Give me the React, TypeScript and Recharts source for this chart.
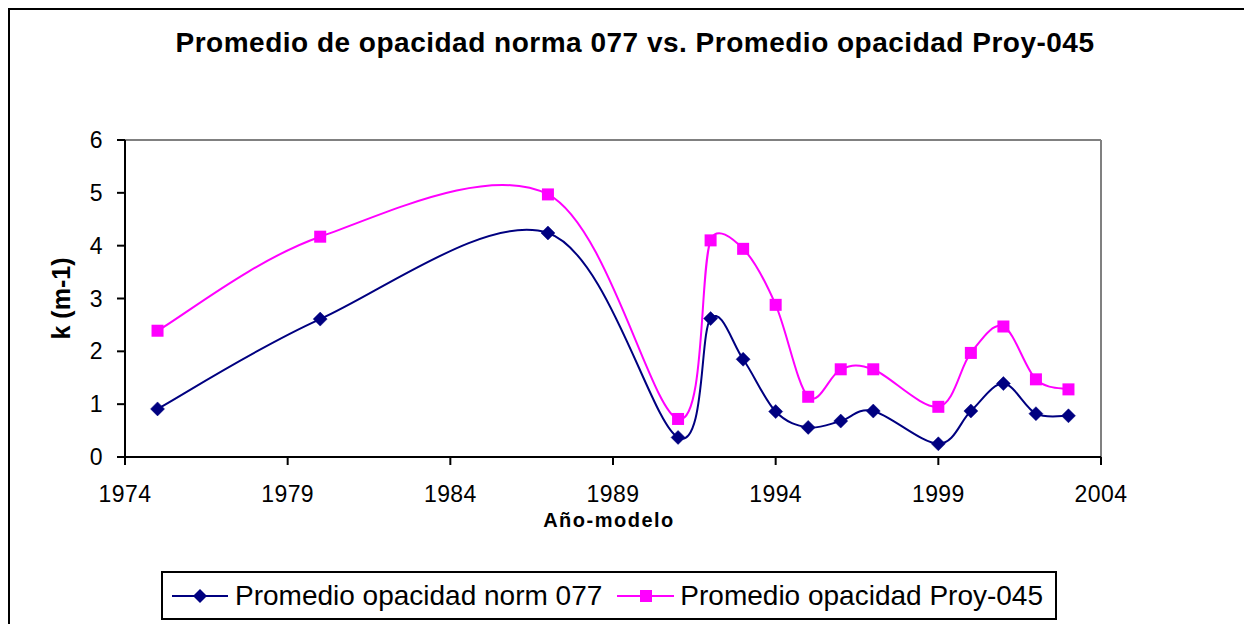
import React from 'react';
import { LineChart, Line, XAxis, YAxis, ReferenceLine, Legend } from 'recharts';

const FONT = '"Liberation Sans", Arial, Helvetica, sans-serif';

const TITLE = 'Promedio de opacidad norma 077 vs. Promedio opacidad Proy-045';
const X_LABEL = 'Año-modelo';
const Y_LABEL = 'k (m-1)';

const years = [1975, 1980, 1987, 1991, 1992, 1993, 1994, 1995, 1996, 1997, 1999, 2000, 2001, 2002, 2003];
const norm077 = [0.91, 2.61, 4.24, 0.37, 2.62, 1.85, 0.86, 0.56, 0.68, 0.87, 0.25, 0.87, 1.39, 0.82, 0.78];
const proy045 = [2.39, 4.17, 4.97, 0.72, 4.10, 3.94, 2.88, 1.14, 1.66, 1.66, 0.95, 1.97, 2.47, 1.47, 1.28];

const xTicks = [1974, 1979, 1984, 1989, 1994, 1999, 2004];
const yTicks = [0, 1, 2, 3, 4, 5, 6];

const SERIES_NAMES = ['Promedio opacidad norm 077', 'Promedio opacidad Proy-045'];
const NAVY = '#000080';
const MAGENTA = '#FF00FF';

// Excel-like smoothed line: Bezier segments, control offsets = min(chord/6, segment/2)
function excelCurve(context: any) {
  let pts: number[][] = [];
  const dist = (a: number[], b: number[]) => Math.hypot(b[0] - a[0], b[1] - a[1]);
  return {
    areaStart() {},
    areaEnd() {},
    lineStart() { pts = []; },
    point(x: number, y: number) { pts.push([+x, +y]); },
    lineEnd() {
      const n = pts.length;
      if (!n) return;
      context.moveTo(pts[0][0], pts[0][1]);
      if (n === 1) return;
      for (let i = 0; i < n - 1; i++) {
        const p0 = pts[Math.max(i - 1, 0)];
        const p1 = pts[i];
        const p2 = pts[i + 1];
        const p3 = pts[Math.min(i + 2, n - 1)];
        const d12 = dist(p1, p2);
        const d02 = dist(p0, p2);
        const d13 = dist(p1, p3);
        const f1 = d02 > 0 ? Math.min(d02 / 6, d12 / 2) / d02 : 0;
        const f2 = d13 > 0 ? Math.min(d13 / 6, d12 / 2) / d13 : 0;
        context.bezierCurveTo(
          p1[0] + (p2[0] - p0[0]) * f1, p1[1] + (p2[1] - p0[1]) * f1,
          p2[0] - (p3[0] - p1[0]) * f2, p2[1] - (p3[1] - p1[1]) * f2,
          p2[0], p2[1]
        );
      }
    },
  };
}

const Diamond = (props: any) => {
  const { cx, cy, index } = props;
  if (cx == null || cy == null) return <g key={`d-${index}`} />;
  const r = 7;
  return <path key={`d-${index}`} d={`M${cx},${cy - r}L${cx + r},${cy}L${cx},${cy + r}L${cx - r},${cy}Z`} fill={NAVY} stroke={NAVY} strokeWidth={0.5} />;
};

const Square = (props: any) => {
  const { cx, cy, index } = props;
  if (cx == null || cy == null) return <g key={`s-${index}`} />;
  const h = 6;
  return <rect key={`s-${index}`} x={cx - h} y={cy - h} width={2 * h} height={2 * h} fill={MAGENTA} />;
};

const LegendBox = () => (
  <div
    style={{
      boxSizing: 'border-box',
      width: 896,
      height: 49,
      border: '2px solid #000',
      background: '#fff',
      display: 'flex',
      alignItems: 'center',
      paddingLeft: 9,
      fontFamily: FONT,
      fontSize: 28,
      lineHeight: '28px',
      color: '#000',
      whiteSpace: 'nowrap',
    }}
  >
    <svg width={56} height={20} style={{ marginRight: 7 }}>
      <line x1={0} y1={10} x2={56} y2={10} stroke={NAVY} strokeWidth={2} />
      <path d="M28,3L35,10L28,17L21,10Z" fill={NAVY} />
    </svg>
    <span>{SERIES_NAMES[0]}</span>
    <svg width={57} height={20} style={{ marginLeft: 15, marginRight: 6 }}>
      <line x1={0} y1={10} x2={57} y2={10} stroke={MAGENTA} strokeWidth={2} />
      <rect x={23} y={4} width={12} height={12} fill={MAGENTA} />
    </svg>
    <span>{SERIES_NAMES[1]}</span>
  </div>
);

export default function App() {
  const data = years.map((y, i) => ({ year: y, norm077: norm077[i], proy045: proy045[i] }));

  const yLabel = (p: any) => {
    const vb = p && p.viewBox ? p.viewBox : { x: 0, y: 130, width: 115, height: 317 };
    const cx = vb.x + 60;
    const cy = vb.y + vb.height / 2;
    return (
      <text x={cx} y={cy} transform={`rotate(-90 ${cx} ${cy})`} textAnchor="middle" fontSize={25} fontWeight="bold" fontFamily={FONT} fill="#000">
        {Y_LABEL}
      </text>
    );
  };

  const xLabel = (p: any) => {
    const vb = p && p.viewBox ? p.viewBox : { x: 115, y: 447, width: 976, height: 80 };
    const cx = vb.x + vb.width / 2 - 4;
    const cy = vb.y + 70;
    return (
      <text x={cx} y={cy} textAnchor="middle" fontSize={20} fontWeight="bold" letterSpacing={1.5} fontFamily={FONT} fill="#000">
        {X_LABEL}
      </text>
    );
  };

  const tickStyle = { fill: '#000', fontSize: 23, fontFamily: FONT, letterSpacing: 0.4 };

  return (
    <div
      style={{
        position: 'relative',
        width: 1244,
        height: 616,
        boxSizing: 'border-box',
        borderTop: '2px solid #000',
        borderLeft: '2px solid #000',
        background: '#fff',
        overflow: 'hidden',
        fontFamily: FONT,
      }}
    >
      <div
        style={{
          position: 'absolute',
          left: 0,
          top: 19,
          width: 1250,
          textAlign: 'center',
          fontSize: 28,
          fontWeight: 'bold',
          lineHeight: '28px',
          letterSpacing: 0.5,
          whiteSpace: 'nowrap',
          color: '#000',
          zIndex: 2,
        }}
      >
        {TITLE}
      </div>
      <LineChart width={1234} height={614} data={data} margin={{ top: 130, right: 143, left: 0, bottom: 87 }}>
        <ReferenceLine y={6} stroke="#808080" strokeWidth={2} ifOverflow="visible" />
        <ReferenceLine x={2004} stroke="#808080" strokeWidth={2} ifOverflow="visible" />
        <XAxis
          type="number"
          dataKey="year"
          domain={[1974, 2004]}
          ticks={xTicks}
          interval={0}
          height={80}
          tickSize={8}
          tickMargin={21}
          axisLine={{ stroke: '#000', strokeWidth: 2 }}
          tickLine={{ stroke: '#000', strokeWidth: 2 }}
          tick={tickStyle}
          label={{ content: xLabel }}
        />
        <YAxis
          type="number"
          domain={[0, 6]}
          ticks={yTicks}
          interval={0}
          width={115}
          tickSize={8}
          tickMargin={14}
          axisLine={{ stroke: '#000', strokeWidth: 2 }}
          tickLine={{ stroke: '#000', strokeWidth: 2 }}
          tick={tickStyle}
          label={{ content: yLabel }}
        />
        <Legend
          layout="horizontal"
          verticalAlign="middle"
          align="center"
          content={LegendBox}
          wrapperStyle={{ position: 'absolute', left: 151, top: 561, width: 896, height: 49 }}
        />
        <Line
          dataKey="norm077"
          name={SERIES_NAMES[0]}
          type={excelCurve as any}
          stroke={NAVY}
          strokeWidth={2}
          dot={Diamond}
          activeDot={false}
          isAnimationActive={false}
        />
        <Line
          dataKey="proy045"
          name={SERIES_NAMES[1]}
          type={excelCurve as any}
          stroke={MAGENTA}
          strokeWidth={2}
          dot={Square}
          activeDot={false}
          isAnimationActive={false}
        />
      </LineChart>
    </div>
  );
}
